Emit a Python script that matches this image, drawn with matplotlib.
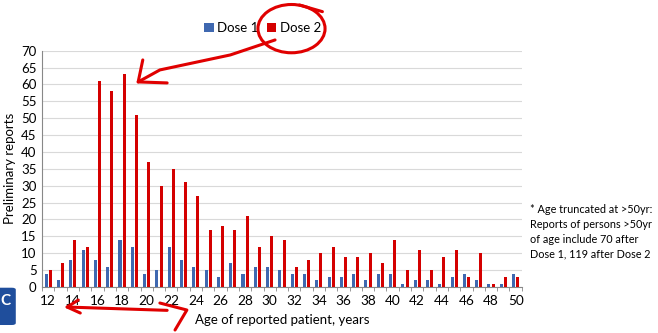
import matplotlib.pyplot as plt
import numpy as np
from matplotlib.patches import Ellipse, FancyBboxPatch

plt.rcParams['font.family'] = ['Lato', 'DejaVu Sans']

ages = list(range(12, 51))
dose1 = [4, 2, 8, 11, 8, 6, 14, 12, 4, 5, 12, 8, 6, 5, 3, 7, 4, 6, 6, 5,
         4, 4, 2, 3, 3, 4, 2, 4, 4, 1, 2, 2, 1, 3, 4, 2, 1, 1, 4]
dose2 = [5, 7, 14, 12, 61, 58, 63, 51, 37, 30, 35, 31, 27, 17, 18, 17, 21, 12, 15, 14,
         6, 8, 10, 12, 9, 9, 10, 7, 14, 5, 11, 5, 9, 11, 3, 10, 1, 3, 3]
note = ("* Age truncated at >50yr:\nReports of persons >50yr\n"
        "of age include 70 after\nDose 1, 119 after Dose 2")

fig = plt.figure(figsize=(6.58, 3.33), dpi=100)
ax = fig.add_axes([0.064, 0.138, 0.729, 0.710])

x = np.arange(len(ages))
w = 0.25
ax.bar(x - 0.17, dose1, width=w, color='#3F68B0', label='Dose 1', zorder=3)
ax.bar(x + 0.17, dose2, width=w, color='#D40000', label='Dose 2', zorder=3)

ax.set_xlim(-0.5, len(ages) - 0.5)
ax.set_ylim(0, 70)
ax.set_yticks(range(0, 71, 5))
ax.yaxis.grid(True, color='#D9D9D9', linewidth=0.8, zorder=0)
ax.tick_params(axis='y', length=0, labelsize=9.5, pad=4)

ax.set_xticks(x)
ax.set_xticklabels([str(a) if a % 2 == 0 else '' for a in ages], fontsize=9.8)
ax.tick_params(axis='x', length=0, pad=6)
ax.set_xticks(np.arange(-0.5, len(ages), 1), minor=True)
ax.tick_params(axis='x', which='minor', length=3, color='#888888')

for s in ['top', 'right']:
    ax.spines[s].set_visible(False)
for s in ['left', 'bottom']:
    ax.spines[s].set_color('#888888')

ax.set_ylabel('Preliminary reports', fontsize=9.5, labelpad=4)
ax.set_xlabel('Age of reported patient, years', fontsize=9.5, labelpad=5)

ax.legend(loc='center', bbox_to_anchor=(0.46, 1.095), ncol=2, frameon=False,
          fontsize=9.5, handlelength=0.7, handleheight=0.7, handletextpad=0.3,
          columnspacing=0.6, borderpad=0.2)

fig.text(0.805, 0.22, note, fontsize=7.8, va='bottom', ha='left', linespacing=1.45)

# hand-drawn red marks
red = '#E00000'
kw = dict(transform=fig.transFigure, color=red, lw=2.2, solid_capstyle='round')
fig.patches.append(Ellipse((0.443, 0.914), 0.102, 0.145, transform=fig.transFigure,
                           fill=False, ec=red, lw=2.2))
fig.lines.append(plt.Line2D([0.455, 0.49], [0.985, 0.965], **kw))
fig.lines.append(plt.Line2D([0.418, 0.35, 0.243, 0.210], [0.880, 0.835, 0.79, 0.754], **kw))
fig.lines.append(plt.Line2D([0.217, 0.210, 0.254], [0.82, 0.754, 0.751], **kw))
fig.lines.append(plt.Line2D([0.102, 0.254], [0.078, 0.068], **kw))
fig.lines.append(plt.Line2D([0.119, 0.102, 0.122], [0.099, 0.078, 0.060], **kw))
fig.lines.append(plt.Line2D([0.243, 0.284, 0.266], [0.090, 0.069, 0.009], **kw))

# partial logo at bottom-left
fig.patches.append(FancyBboxPatch((-0.02, 0.03), 0.038, 0.10, transform=fig.transFigure,
                                  boxstyle='round,pad=0.006', fc='#1F4E9C', ec='none'))
fig.text(0.0, 0.095, 'C', color='white', fontsize=11, fontweight='bold', va='center')

fig.savefig('out.png', dpi=100)
